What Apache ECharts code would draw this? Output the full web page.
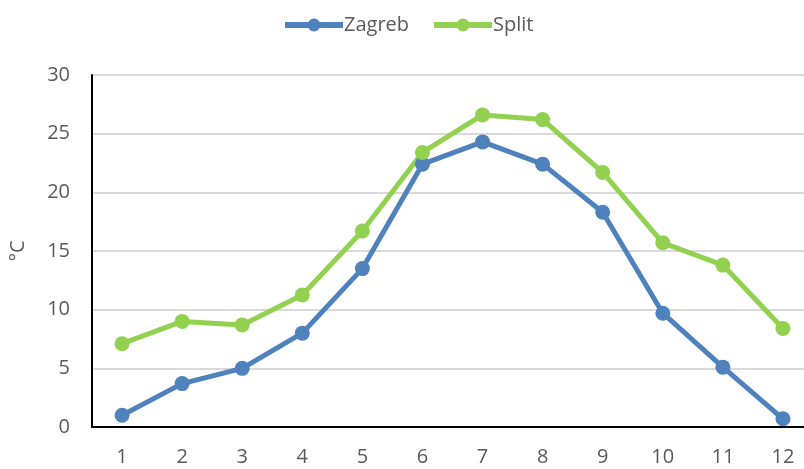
<!DOCTYPE html>
<html>
<head>
<meta charset="utf-8">
<script src="https://cdn.jsdelivr.net/npm/echarts@6/dist/echarts.min.js"></script>
<style>
  html, body { margin: 0; padding: 0; background: #fff; overflow: hidden; }
  /* the plot area runs past the right edge in the original, so the canvas is wider than the window */
  #chart { width: 830px; height: 469px; }
</style>
</head>
<body>
<div id="chart"></div>
<script>
const months = ['1', '2', '3', '4', '5', '6', '7', '8', '9', '10', '11', '12']
const zagreb = [1.0, 3.7, 5.0, 8.0, 13.5, 22.4, 24.3, 22.4, 18.3, 9.7, 5.1, 0.7]
const split = [7.1, 9.0, 8.7, 11.25, 16.7, 23.4, 26.6, 26.2, 21.7, 15.7, 13.8, 8.4]

const fontColor = '#595959'
const myChart = echarts.init(document.getElementById('chart'))

const option = {
  textStyle: { fontFamily: 'Open Sans' },
  grid: {
    top: 75,
    left: 91,
    right: 17,
    bottom: 42
  },
  legend: {
    top: 10,
    left: 277,
    itemWidth: 58,
    itemHeight: 16,
    itemGap: 22,
    lineStyle: { width: 6 },
    textStyle: { color: fontColor, fontSize: 20, padding: [0, 0, 0, -4] }
  },
  xAxis: {
    type: 'category',
    data: months,
    boundaryGap: true,
    axisLine: { lineStyle: { color: '#000', width: 2 } },
    axisTick: { show: false },
    axisLabel: { color: fontColor, fontSize: 20, margin: 20 }
  },
  yAxis: {
    type: 'value',
    min: 0,
    max: 30,
    interval: 5,
    name: '°C',
    nameLocation: 'middle',
    nameGap: 64,
    nameTextStyle: { color: fontColor, fontSize: 20 },
    axisLine: { show: true, lineStyle: { color: '#000', width: 2 } },
    axisTick: { show: false },
    axisLabel: { color: fontColor, fontSize: 20, margin: 22 },
    splitLine: { lineStyle: { color: '#d9d9d9', width: 2 } }
  },
  series: [
    {
      name: 'Zagreb',
      type: 'line',
      data: zagreb,
      symbol: 'circle',
      symbolSize: 15,
      lineStyle: { color: '#4f81bd', width: 5 },
      itemStyle: { color: '#4f81bd' }
    },
    {
      name: 'Split',
      type: 'line',
      data: split,
      symbol: 'circle',
      symbolSize: 15,
      lineStyle: { color: '#92d050', width: 5 },
      itemStyle: { color: '#92d050' }
    }
  ]
}

myChart.setOption(option)
</script>
</body>
</html>
